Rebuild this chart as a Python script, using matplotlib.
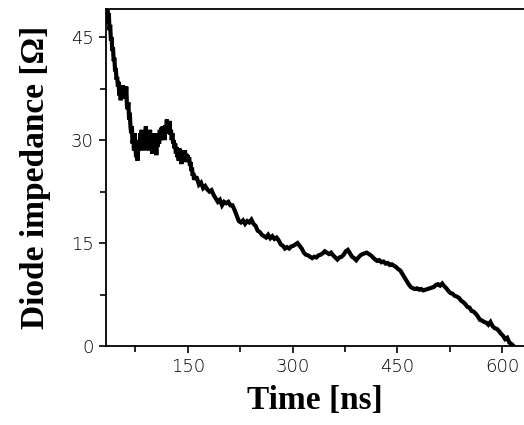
import matplotlib
matplotlib.use("Agg")
import matplotlib.pyplot as plt
from matplotlib.ticker import MultipleLocator

time_ns = list(range(33, 161)) + [
    163, 166, 169, 172, 175, 178, 181, 184, 187, 190, 193, 196, 199, 202, 205,
    208, 211, 214, 217, 220, 223, 226, 229, 232, 235, 238, 241, 244, 247, 250, 253, 256, 259, 262, 265,
    268, 271, 274, 277, 280, 283, 286, 289, 292, 295, 298, 301, 304, 307, 310, 313, 316, 319, 322, 325,
    328, 331, 334, 337, 340, 343, 346, 349, 352, 355, 358, 361, 364, 367, 370, 373, 376, 379, 382, 385,
    388, 391, 394, 397, 400, 403, 406, 409, 412, 415, 418, 421, 424, 427, 430, 433, 436, 439, 442, 445,
    448, 451, 454, 457, 460, 463, 466, 469, 472, 475, 478, 481, 484, 487, 490, 493, 496, 499, 502, 505,
    508, 511, 514, 517, 520, 523, 526, 529, 532, 535, 538, 541, 544, 547, 550, 553, 556, 559, 562, 565,
    568, 571, 574, 577, 580, 583, 586, 589, 592, 595, 598, 601, 604, 607, 610, 613, 616]
impedance = [
    49.8, 47.5, 49.5, 47, 48.5, 46, 46.8, 44.5, 45, 43, 43.5, 41.5, 42, 40, 40.5, 38.8, 39.2, 37.8, 38.5, 36.5,
    37.5, 35.8, 37, 36, 38, 36.5, 37.8,
    37.5, 36, 37.8, 35, 34.5, 35.5, 33, 34, 32, 31, 32, 29.5, 30.5, 28.5, 31, 29.5, 27.5, 29, 27, 28.5,
    30, 28.5, 31, 29, 31.5, 29.5, 31, 28.5, 30.5, 29.5, 32, 29.5, 31, 28.5, 30.5, 29, 31.5, 29.5, 30, 28,
    30.5, 29, 31, 28, 29.5, 27.8, 30, 29, 31, 29.5, 31.5, 30, 31.8, 30, 32, 30.5, 31.5, 30, 32.2, 31,
    33, 31, 32.5, 31.2, 32.8, 30.8, 31.5, 30, 31, 29.5, 30, 28.8, 29.5, 28, 29, 27.5, 28.5, 27, 28.8, 27,
    27.8, 26.5, 28.5, 27, 28, 26.8, 28.5, 27.2, 28, 26.8, 27.8, 27, 27.5, 26.3, 26.8, 25.5, 26, 24.8, 25.2, 24.2,
    24.6,
    24.5, 23.5, 23.8, 23, 23.3, 22.8, 22.5, 22.7, 22, 21.5, 21, 21.3, 20.5, 21, 20.8,
    21, 20.5, 20.5, 19.8, 19, 18.2, 18, 18.3, 17.8, 18.2, 18, 18.4, 17.8, 17.5, 16.8, 16.6, 16.2, 16, 15.8, 16.2,
    15.7, 16, 15.6, 15.8, 15.4, 14.8, 14.6, 14.2, 14.4, 14.2, 14.5, 14.6, 14.8, 15, 14.6, 14.2, 13.6, 13.3, 13.2, 13,
    12.8, 13, 12.9, 13.2, 13.3, 13.5, 13.8, 13.6, 13.4, 13.6, 13.2, 12.9, 12.6, 12.9, 13, 13.3, 13.8, 14, 13.5, 13,
    12.8, 12.5, 12.9, 13.2, 13.4, 13.5, 13.6, 13.4, 13.2, 12.9, 12.6, 12.4, 12.5, 12.2, 12.3, 12, 12.1, 11.8, 11.9, 11.7,
    11.5, 11.2, 11, 10.5, 10, 9.5, 9, 8.6, 8.4, 8.3, 8.4, 8.2, 8.3, 8.1, 8.2, 8.3, 8.4, 8.5, 8.6, 8.9,
    9, 8.8, 9.1, 8.7, 8.4, 8, 7.7, 7.6, 7.3, 7.2, 7, 6.6, 6.4, 6.1, 5.7, 5.6, 5.1, 5.0, 4.7, 4.3,
    3.8, 3.7, 3.5, 3.4, 3.1, 3.5, 2.9, 2.6, 2.5, 2.2, 1.8, 1.5, 1.0, 1.2, 0.5, 0.3, 0]

x_major = [150, 300, 450, 600]
y_major = [0, 15, 30, 45]

fig = plt.figure(figsize=(5.24, 4.25), dpi=100)
ax = fig.add_axes([0.2023, 0.1859, 0.7977, 0.7929])
ax.plot(time_ns, impedance, color="black", linewidth=3.0, solid_joinstyle="miter")

ax.set_xlim(33, 631)
ax.set_ylim(0, 49.1)
ax.set_xticks(x_major)
ax.set_yticks(y_major)
ax.xaxis.set_minor_locator(MultipleLocator(75))
ax.yaxis.set_minor_locator(MultipleLocator(7.5))
ax.set_xticklabels([str(v) for v in x_major])
ax.set_yticklabels([str(v) for v in y_major])

ax.spines["right"].set_visible(False)
for s in ["left", "bottom", "top"]:
    ax.spines[s].set_linewidth(1.3)

ax.tick_params(axis="both", which="major", direction="out", length=5, width=1.2,
               labelsize=13, pad=4, colors="black")
ax.tick_params(axis="both", which="minor", direction="out", length=4, width=1.2)
for lab in ax.get_xticklabels() + ax.get_yticklabels():
    lab.set_fontfamily("DejaVu Sans")
    lab.set_fontweight("light")

ax.set_xlabel("Time [ns]", fontsize=24, fontweight="bold", family="Liberation Serif", labelpad=6)
ax.set_ylabel("Diode impedance [\u03a9]", fontsize=24, fontweight="bold", family="Liberation Serif", labelpad=14)

fig.savefig("out.png", dpi=100)
